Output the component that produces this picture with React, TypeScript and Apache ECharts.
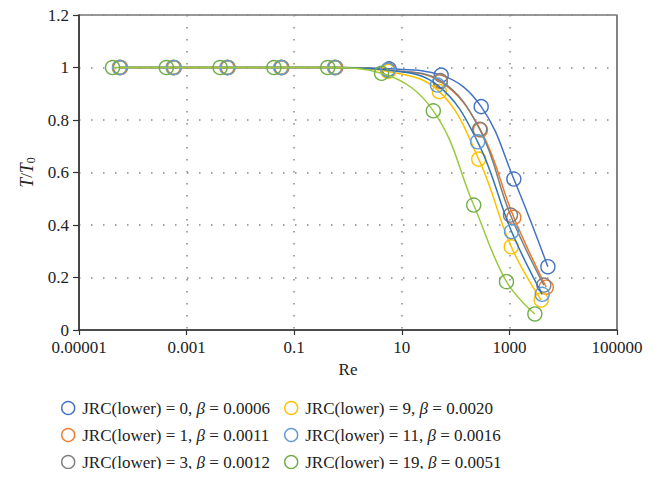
import React, { useEffect, useRef } from "react";
import * as echarts from "echarts";

const seriesNames = [
  "JRC(lower) = 0, β = 0.0006",
  "JRC(lower) = 1, β = 0.0011",
  "JRC(lower) = 3, β = 0.0012",
  "JRC(lower) = 9, β = 0.0020",
  "JRC(lower) = 11, β = 0.0016",
  "JRC(lower) = 19, β = 0.0051",
];

const reJrc0 = [0.000058, 0.00058, 0.0058, 0.058, 0.58, 5.8, 54, 299, 1208, 5190];
const tJrc0 = [1, 1, 1, 1, 1, 0.995, 0.971, 0.851, 0.575, 0.241];
const reJrc1 = [0.000059, 0.00059, 0.0059, 0.059, 0.59, 5.7, 52, 290, 1208, 4840];
const tJrc1 = [1, 1, 1, 1, 1, 0.99, 0.946, 0.762, 0.429, 0.163];
const reJrc3 = [0.000057, 0.00057, 0.0057, 0.057, 0.57, 5.6, 52, 280, 1047, 4370];
const tJrc3 = [1, 1, 1, 1, 1, 0.99, 0.95, 0.765, 0.438, 0.171];
const reJrc9 = [0.000056, 0.00056, 0.0056, 0.056, 0.56, 5.6, 50, 269, 1082, 3890];
const tJrc9 = [1, 1, 1, 1, 1, 0.985, 0.908, 0.651, 0.317, 0.114];
const reJrc11 = [0.000057, 0.00057, 0.0057, 0.057, 0.57, 5.5, 46, 257, 1096, 4070];
const tJrc11 = [1, 1, 1, 1, 1, 0.99, 0.933, 0.717, 0.375, 0.136];
const reJrc19 = [0.000042, 0.00042, 0.0042, 0.042, 0.42, 4.2, 38.5, 217, 883, 2972];
const tJrc19 = [1, 1, 1, 1, 1, 0.978, 0.835, 0.476, 0.184, 0.061];

const reLists = [reJrc0, reJrc1, reJrc3, reJrc9, reJrc11, reJrc19];
const tLists = [tJrc0, tJrc1, tJrc3, tJrc9, tJrc11, tJrc19];
const markerColors = ["#4472C4", "#ED7D31", "#7F7F7F", "#FFC000", "#5B9BD5", "#70AD47"];
const lineColors = ["#4472C4", "#ED7D31", "#7F7F7F", "#FFC000", "#2E75B6", "#9BCB3C"];

const FONT = "'Liberation Serif', 'Times New Roman', serif";

function fmtLog(v: number): string {
  const e = Math.round(Math.log10(v));
  if (e >= 0) return String(Math.pow(10, e));
  return "0." + "0".repeat(-e - 1) + "1";
}

export default function App() {
  const ref = useRef<HTMLDivElement>(null);
  useEffect(() => {
    if (!ref.current) return;
    const chart = echarts.init(ref.current, undefined, { renderer: "svg" });
    const series = seriesNames.map((name, i) => ({
      name,
      type: "line",
      smooth: 0.4,
      symbol: "circle",
      symbolSize: 14,
      data: reLists[i].map((x, j) => [x, tLists[i][j]]),
      lineStyle: { color: lineColors[i], width: 1.5 },
      itemStyle: { color: "rgba(255,255,255,0)", borderColor: markerColors[i], borderWidth: 1.4 },
      z: 2 + i,
    }));
    const legendItem = (i: number) => ({
      name: seriesNames[i],
      icon: "circle",
      itemStyle: { color: "#fff", borderColor: markerColors[i], borderWidth: 1.4 },
    });
    const legendCommon = {
      orient: "vertical",
      itemWidth: 18,
      itemHeight: 13,
      itemGap: 9,
      padding: 0,
      height: 100,
      selectedMode: false,
      textStyle: {
        fontFamily: FONT,
        fontSize: 17,
        color: "#222",
        lineHeight: 18,
        rich: { i: { fontFamily: FONT, fontSize: 17, fontStyle: "italic", color: "#222" } },
      },
      formatter: (n: string) => n.replace("β", "{i|β}"),
    };
    chart.setOption({
      animation: false,
      backgroundColor: "#fff",
      grid: {
        left: 79,
        right: 37,
        top: 15,
        bottom: 147,
        show: true,
        borderColor: "#333",
        borderWidth: 1.2,
        backgroundColor: "transparent",
      },
      xAxis: {
        type: "log",
        logBase: 10,
        min: 0.00001,
        max: 100000,
        interval: 2,
        name: "Re",
        nameLocation: "middle",
        nameGap: 28,
        nameTextStyle: { fontFamily: FONT, fontSize: 17, color: "#222" },
        axisLine: { show: true, lineStyle: { color: "#333", width: 1.5 } },
        axisTick: { show: true, length: 5, lineStyle: { color: "#333", width: 1.2 } },
        minorTick: { show: false },
        axisLabel: {
          formatter: fmtLog,
          fontFamily: FONT,
          fontSize: 17,
          color: "#222",
          margin: 9,
        },
        splitLine: {
          show: true,
          lineStyle: { color: "#888", type: [1.5, 10.5], width: 1.5 },
        },
      },
      yAxis: {
        type: "value",
        min: 0,
        max: 1.2,
        interval: 0.2,
        name: "{i|T}/{i|T}{s|0}",
        nameLocation: "middle",
        nameGap: 42,
        nameRotate: 90,
        nameTextStyle: {
          fontFamily: FONT,
          fontSize: 17,
          color: "#222",
          rich: {
            i: { fontFamily: FONT, fontSize: 18, fontStyle: "italic", color: "#222" },
            s: { fontFamily: FONT, fontSize: 12, color: "#222", padding: [8, 0, 0, 0] },
          },
        },
        axisLine: { show: true, lineStyle: { color: "#333", width: 1.5 } },
        axisTick: { show: true, length: 6, lineStyle: { color: "#333", width: 1.2 } },
        axisLabel: {
          fontFamily: FONT,
          fontSize: 17,
          color: "#222",
          margin: 10,
        },
        splitLine: {
          show: true,
          lineStyle: { color: "#888", type: [1.5, 10.5], width: 1.5 },
        },
      },
      legend: [
        { ...legendCommon, left: 61, top: 399, data: [0, 1, 2].map(legendItem) },
        { ...legendCommon, left: 284, top: 399, data: [3, 4, 5].map(legendItem) },
      ],
      series,
    });
    return () => chart.dispose();
  }, []);
  return <div ref={ref} style={{ width: 654, height: 477, margin: -8 }} />;
}
